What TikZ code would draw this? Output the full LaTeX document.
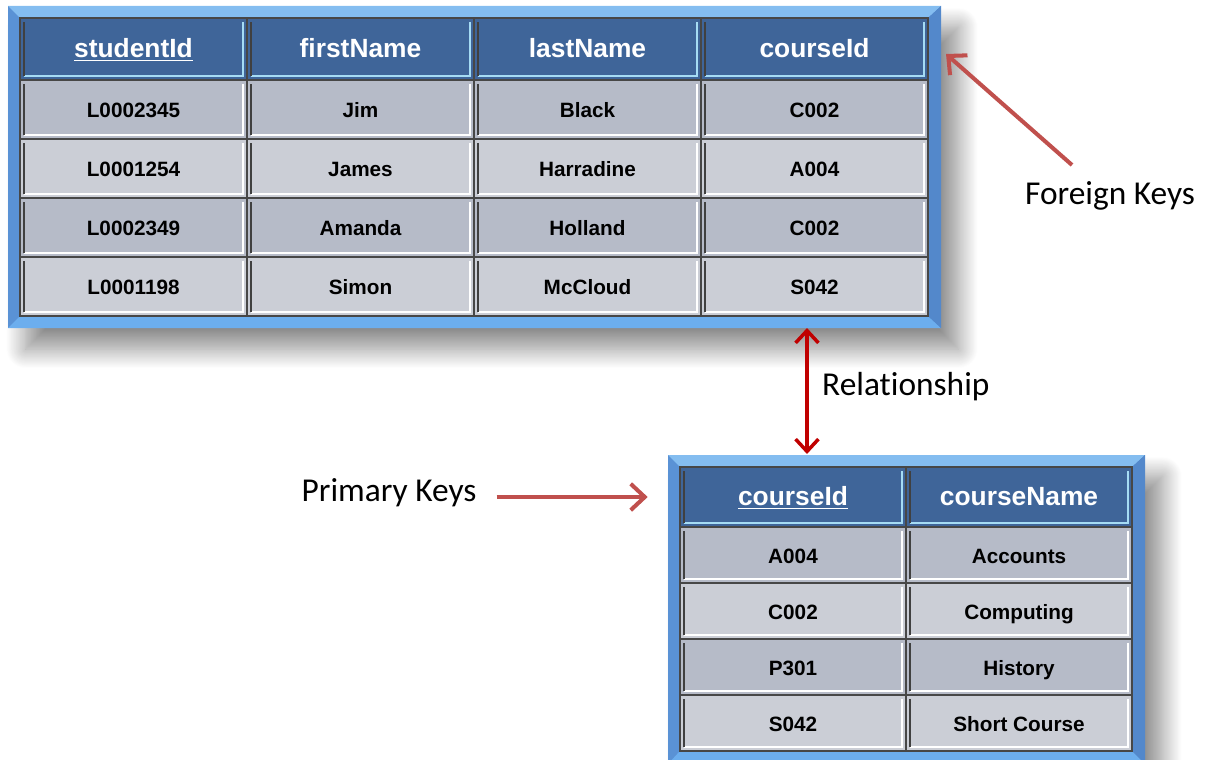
\documentclass[tikz,border=0pt]{standalone}
\usepackage{fontspec}
\setmainfont{Liberation Sans}
\newfontfamily\labelfont[Ligatures=NoCommon]{Carlito}
\usetikzlibrary{arrows.meta,shadows.blur}

\definecolor{hdblue}{HTML}{3F6599}
\definecolor{hdglow}{HTML}{A6DCF4}
\definecolor{rowdark}{HTML}{B6BBC8}
\definecolor{rowlight}{HTML}{CBCED6}
\definecolor{gridgrey}{HTML}{474747}
\definecolor{framemid}{HTML}{5A92D5}
\definecolor{frametop}{HTML}{84BDF0}
\definecolor{framebot}{HTML}{6CAEEE}
\definecolor{frameright}{HTML}{5388CB}
\definecolor{keyred}{HTML}{C0504D}
\definecolor{relred}{HTML}{C00000}

\tikzset{
  bevel/.style={path picture={
      \draw[#1, line width=1.1pt]
        ([shift={(-2.5pt,-2.5pt)}]path picture bounding box.north east) --
        ([shift={(-2.5pt,2.5pt)}]path picture bounding box.south east) --
        ([shift={(2.5pt,2.5pt)}]path picture bounding box.south west);
      \draw[black!75, line width=1.1pt]
        ([shift={(2.5pt,-2.5pt)}]path picture bounding box.north west) --
        ([shift={(2.5pt,2.5pt)}]path picture bounding box.south west);
  }},
  cell/.style={rectangle, draw=gridgrey, line width=0.8pt, inner sep=0pt,
    text height=0.95em, text depth=0pt},
  hdcell/.style={cell, fill=hdblue, text=white,
    font=\fontsize{15}{17}\selectfont\bfseries, bevel=hdglow},
  darkcell/.style={cell, fill=rowdark,
    font=\fontsize{11.8}{13}\selectfont\bfseries, bevel=white},
  lightcell/.style={cell, fill=rowlight,
    font=\fontsize{11.8}{13}\selectfont\bfseries, bevel=white},
  % student table sizes
  shead/.style={hdcell, minimum width=4.54cm, minimum height=1.24cm},
  sdark/.style={darkcell, minimum width=4.54cm, minimum height=1.18cm},
  slight/.style={lightcell, minimum width=4.54cm, minimum height=1.18cm},
  % course table sizes
  chead/.style={hdcell, minimum width=4.52cm, minimum height=1.2cm},
  cdark/.style={darkcell, minimum width=4.52cm, minimum height=1.12cm},
  clight/.style={lightcell, minimum width=4.52cm, minimum height=1.12cm},
  tabshadow/.style={blur shadow={shadow xshift=10pt, shadow yshift=-12pt,
      shadow blur radius=11pt, shadow blur steps=24, shadow opacity=45}},
  keylabel/.style={font=\labelfont\fontsize{19}{22}\selectfont},
  keyarrow/.style={keyred, line width=2.3pt,
    -{Straight Barb[length=8pt,width=15pt,line width=2.3pt]}},
  relarrow/.style={relred, line width=1.8pt,
    {Straight Barb[length=7pt,width=13pt,line width=2pt]}-{Straight Barb[length=7pt,width=13pt,line width=2pt]}}
}

\begin{document}
\begin{tikzpicture}[x=0.02cm, y=-0.02cm]
  \useasboundingbox (0,0) rectangle (1207,760);

  % student table frame
  \fill[framemid, tabshadow] (8,6) rectangle (941,328);
  \fill[frametop] (8,6) -- (941,6) -- (928,18) -- (20,18) -- cycle;
  \fill[framebot] (8,328) -- (941,328) -- (928,316) -- (20,316) -- cycle;
  \fill[frameright] (941,6) -- (941,328) -- (928,316) -- (928,18) -- cycle;

  \node[shead] (s-h1) at (133.5,49) {\underline{studentId}};
  \node[shead] (s-h2) at (360.5,49) {firstName};
  \node[shead] (s-h3) at (587.5,49) {lastName};
  \node[shead] (s-h4) at (814.5,49) {courseId};

  \node[sdark] (s-r1c1) at (133.5,109.5) {L0002345};
  \node[sdark] (s-r1c2) at (360.5,109.5) {Jim};
  \node[sdark] (s-r1c3) at (587.5,109.5) {Black};
  \node[sdark] (s-r1c4) at (814.5,109.5) {C002};

  \node[slight] (s-r2c1) at (133.5,168.5) {L0001254};
  \node[slight] (s-r2c2) at (360.5,168.5) {James};
  \node[slight] (s-r2c3) at (587.5,168.5) {Harradine};
  \node[slight] (s-r2c4) at (814.5,168.5) {A004};

  \node[sdark] (s-r3c1) at (133.5,227.5) {L0002349};
  \node[sdark] (s-r3c2) at (360.5,227.5) {Amanda};
  \node[sdark] (s-r3c3) at (587.5,227.5) {Holland};
  \node[sdark] (s-r3c4) at (814.5,227.5) {C002};

  \node[slight] (s-r4c1) at (133.5,286.5) {L0001198};
  \node[slight] (s-r4c2) at (360.5,286.5) {Simon};
  \node[slight] (s-r4c3) at (587.5,286.5) {McCloud};
  \node[slight] (s-r4c4) at (814.5,286.5) {S042};

  % course table frame
  \fill[framemid, tabshadow] (668,455) rectangle (1145,764);
  \fill[frametop] (668,455) -- (1145,455) -- (1132,467) -- (680,467) -- cycle;
  \fill[framebot] (668,764) -- (1145,764) -- (1132,751) -- (680,751) -- cycle;
  \fill[frameright] (1145,455) -- (1145,764) -- (1132,751) -- (1132,467) -- cycle;

  \node[chead] (c-h1) at (793,497) {\underline{courseId}};
  \node[chead] (c-h2) at (1019,497) {courseName};

  \node[cdark] (c-r1c1) at (793,555) {A004};
  \node[cdark] (c-r1c2) at (1019,555) {Accounts};
  \node[clight] (c-r2c1) at (793,611) {C002};
  \node[clight] (c-r2c2) at (1019,611) {Computing};
  \node[cdark] (c-r3c1) at (793,667) {P301};
  \node[cdark] (c-r3c2) at (1019,667) {History};
  \node[clight] (c-r4c1) at (793,723) {S042};
  \node[clight] (c-r4c2) at (1019,723) {Short Course};

  % labels and arrows
  \node[keylabel] (fk) at (1110,196) {Foreign Keys};
  \node[keylabel, anchor=west] (rel) at (816,387) {Relationship};
  \node[keylabel] (pk) at (389,493) {Primary Keys};

  \coordinate (fkTail) at (1072,165);
  \coordinate (fkTip) at (946,54);
  \coordinate (relTop) at (807,328);
  \coordinate (relBot) at (807,454);

  \draw[keyarrow] (fkTail) -- (fkTip);
  \draw[relarrow] (relTop) -- (relBot);
  \draw[keyarrow, shorten <=8pt, shorten >=18pt] (pk.east |- c-h1.west) -- (c-h1.west);
\end{tikzpicture}
\end{document}
